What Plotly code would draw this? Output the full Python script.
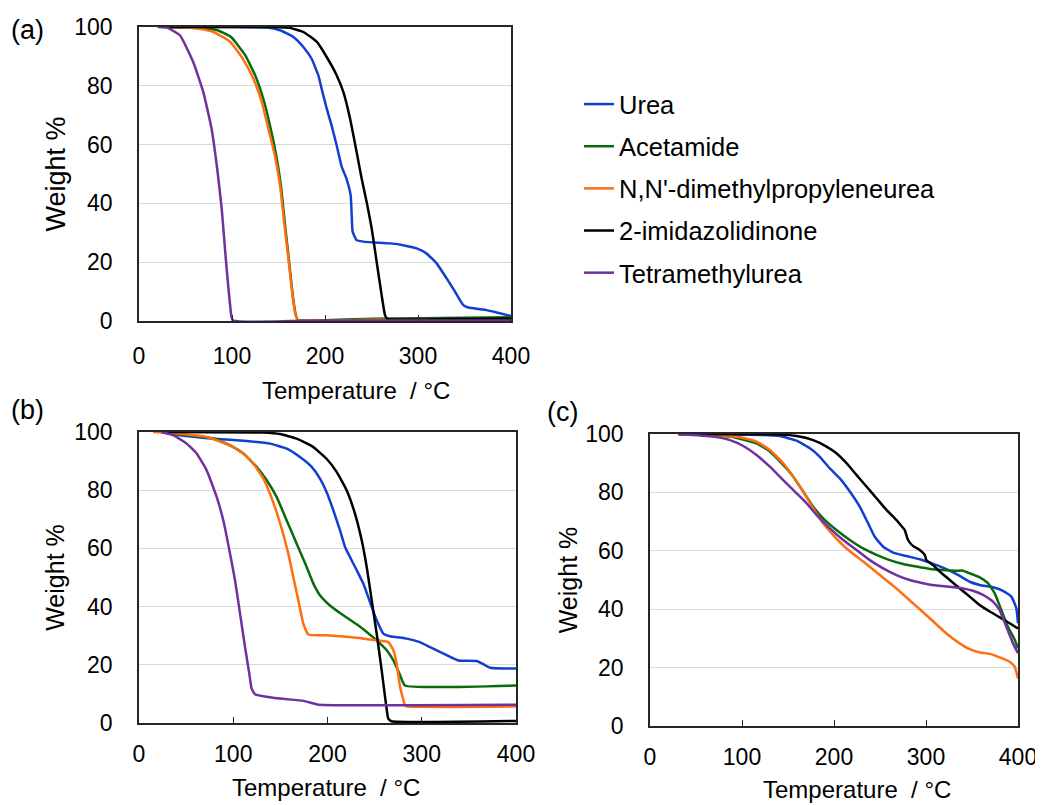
import plotly.graph_objects as go

# ---------------- data: panel (a) ----------------
a_urea_t = [25, 100, 137, 151.6, 166, 176.7, 185.6, 192.8, 196.4, 201.8, 207, 212.5, 218, 223, 227.6, 228.7, 229.7, 234, 241, 270, 284, 298.5, 309, 320, 330.8, 339.8, 348.7, 354, 373.8, 384.6, 400]
a_urea_w = [100, 100, 99.8, 98.9, 96.6, 93.2, 89.2, 83.6, 79, 72.3, 66.6, 59.8, 52.4, 48.5, 42.8, 36, 30.4, 27.5, 27, 26.4, 25.8, 24.7, 23, 19.6, 14.5, 10, 5.4, 4.6, 3.7, 2.9, 1.7]
a_acet_t = [30, 62, 83.5, 99, 114, 125, 134, 141, 147.5, 152.5, 156.7, 161, 165.3, 168.5, 170.8, 250, 400]
a_acet_w = [100, 99.7, 99.0, 96.6, 90.5, 83.5, 75.2, 66.2, 56.4, 46.2, 33.7, 21.3, 8.8, 2.2, 0.4, 0.8, 1.3]
a_dmpu_t = [30, 62, 80, 98, 112, 123, 132, 139, 146, 151.6, 156, 160.6, 165, 168.4, 171, 250, 400]
a_dmpu_w = [100, 99.6, 98.3, 95, 89, 82.4, 74.5, 65.5, 56.4, 46.2, 33.7, 21.3, 8.8, 2, 0.3, 0.4, 0.5]
a_imid_t = [30, 145, 162, 176.7, 191, 201.8, 212.5, 219.7, 226.9, 234, 239.4, 244.8, 250.2, 255.5, 260.9, 264.5, 267, 330, 400]
a_imid_w = [100, 100, 99.7, 98.3, 95, 89.8, 83.6, 77.9, 68.9, 57.5, 48.5, 40.5, 31.5, 20.2, 8.8, 2, 0.7, 0.7, 0.8]
a_tmu_t = [20, 30, 44, 58.4, 69, 78, 84, 89, 93, 98, 100.7, 200, 400]
a_tmu_w = [100, 99.8, 97.2, 88, 78, 65.5, 52, 38, 22.4, 5.4, 0.3, 0.2, 0.2]

# ---------------- data: panel (b) ----------------
b_urea_t = [24, 43.5, 79, 114.2, 139, 156.7, 170.8, 183.2, 192, 199, 206.2, 213.3, 218.6, 223.9, 231, 238, 245, 252.2, 259.2, 266.3, 284, 298, 308.8, 326.4, 338.8, 358.3, 365.3, 372.4, 400]
b_urea_w = [100, 98.9, 97.7, 96.9, 96, 94.3, 91.4, 88, 84, 79.4, 73.1, 66.2, 60.5, 57, 52.5, 47.9, 41.6, 35.3, 30.7, 29.8, 29, 27.8, 26.1, 23.3, 21.5, 21.3, 20.2, 19, 18.7]
b_acet_t = [24, 43.5, 79, 96.6, 110.7, 124.8, 135.5, 146, 156.7, 167.3, 177.9, 185, 192, 202.6, 216.8, 231, 241.6, 252.2, 262.8, 269.9, 277, 282.2, 400]
b_acet_w = [100, 99.2, 97.8, 95.4, 92.6, 88, 83.4, 77.7, 69.6, 61.6, 53.6, 47.9, 43.9, 40.4, 37, 33.9, 31.3, 28.4, 25, 21.5, 16.4, 12.9, 12.9]
b_dmpu_t = [15, 43.5, 71.8, 96.6, 110.7, 121.3, 132, 139, 146, 153, 158.4, 163.7, 169, 174.4, 179.7, 202.6, 231, 252, 264.5, 269.9, 273.4, 277, 282.2, 284, 400]
b_dmpu_w = [100, 99.4, 98.3, 95.4, 92.6, 89.1, 84, 78.8, 72.5, 65, 58.2, 50.2, 42.2, 34.1, 30.4, 30.1, 29.3, 28.4, 27.8, 25, 20.4, 12.4, 6.1, 5.7, 5.7]
b_imid_t = [30, 132, 149.6, 167.3, 185, 199, 209.7, 220.3, 229.2, 236.3, 241.6, 246.9, 252.2, 257.5, 262, 264.5, 268, 400]
b_imid_w = [100, 99.8, 99.3, 97.7, 94.8, 90.8, 86.3, 80, 71.9, 62.8, 53.6, 42.2, 30.7, 18.1, 6.6, 1.5, 0.6, 0.7]
b_tmu_t = [24, 36.4, 50.6, 61.2, 71.8, 82.4, 89.5, 96.6, 101.9, 107.2, 112.5, 117, 119.5, 123, 132, 149.6, 174.4, 183, 190.3, 400]
b_tmu_w = [100, 98.9, 96, 92.6, 86.8, 77.7, 69.6, 58.2, 49, 37.6, 26.1, 17, 11.8, 9.9, 9.2, 8.4, 7.6, 6.9, 6.3, 6.3]

# ---------------- data: panel (c) ----------------
c_urea_t = [31, 123, 141, 159.3, 173.8, 184.6, 195.5, 206.3, 217.2, 228, 237.1, 244.3, 253.4, 264.3, 278.7, 293.2, 307.7, 322.2, 336.7, 347.5, 358.4, 372.8, 383.7, 392.8, 398.2, 400]
c_urea_w = [100, 99.7, 99.3, 97.7, 95.1, 92.2, 88.2, 84.8, 80.3, 75.1, 69.4, 64.8, 61.4, 59.4, 58.2, 57.1, 55.5, 53.7, 51.4, 49.4, 48.3, 47.5, 46.3, 44.3, 40.3, 35.2]
c_acet_t = [31, 86.9, 115.8, 130.3, 144.8, 155.7, 166.5, 177.4, 188.2, 202.7, 217.2, 231.7, 246.2, 260.6, 275.1, 289.6, 304.1, 318.5, 333, 340.3, 347.5, 358.4, 367.4, 374.7, 381.9, 389.1, 396.4, 400]
c_acet_w = [100, 99.1, 96.8, 94, 89.4, 85.4, 80.3, 75.1, 71.1, 67.1, 63.7, 60.8, 58.6, 56.8, 55.5, 54.6, 53.8, 53.4, 53.2, 53.2, 52.3, 50.9, 48.9, 45.4, 39.7, 34, 29.5, 26.6]
c_dmpu_t = [31, 68.8, 97.7, 115.8, 130.3, 144.8, 155.7, 166.5, 177.4, 188.2, 199.1, 213.6, 231.7, 249.8, 267.9, 286, 304.1, 322.2, 336.7, 347.5, 358.4, 369.2, 380.1, 390.9, 396.4, 400]
c_dmpu_w = [100, 99.7, 98.9, 97.4, 94.5, 90, 85.4, 80.3, 74.5, 69.4, 65.4, 60.8, 56.3, 51.7, 47.1, 42, 36.9, 31.7, 28.3, 26.3, 25.2, 24.7, 23.5, 22, 20.3, 16.3]
c_imid_t = [31, 141, 159.3, 177.4, 191.9, 202.7, 213.6, 224.4, 235.3, 246.2, 257, 267.9, 273.3, 276.9, 280.5, 286, 293.2, 298.6, 300.4, 307.7, 314.9, 325.8, 336.7, 347.5, 358.4, 369.2, 380.1, 390.9, 400]
c_imid_w = [100, 99.8, 99.3, 97.9, 95.7, 93.4, 90, 86, 82, 78, 74, 70.5, 68.5, 67.1, 63.7, 61.6, 60.3, 58.6, 56.8, 55.1, 52.9, 50, 47.1, 44.3, 41.4, 39.2, 37.2, 35.2, 33.4]
c_tmu_t = [31, 68.8, 86.9, 101.4, 115.8, 130.3, 144.8, 159.3, 170.1, 181, 195.5, 210, 224.4, 238.9, 253.4, 267.9, 282.3, 296.8, 311.3, 325.8, 340.3, 351.1, 362, 372.8, 380, 387.3, 394.6, 400]
c_tmu_w = [100, 99.1, 97.9, 95.9, 92.8, 88.8, 84.2, 79.7, 76.3, 72.3, 67.7, 63.7, 60.3, 56.8, 54, 51.7, 50, 48.9, 48.1, 47.7, 47.1, 46.3, 44.9, 42.6, 39.7, 34, 28.3, 24.9]

names = ["Urea", "Acetamide", "N,N'-dimethylpropyleneurea", "2-imidazolidinone", "Tetramethylurea"]
colors = ["#1040D0", "#0B6B0B", "#FF6E10", "#000000", "#7030A0"]

x_ticks = [0, 100, 200, 300, 400]
y_ticks = [0, 20, 40, 60, 80, 100]

panels = [
    [(a_urea_t, a_urea_w), (a_acet_t, a_acet_w), (a_dmpu_t, a_dmpu_w), (a_imid_t, a_imid_w), (a_tmu_t, a_tmu_w)],
    [(b_urea_t, b_urea_w), (b_acet_t, b_acet_w), (b_dmpu_t, b_dmpu_w), (b_imid_t, b_imid_w), (b_tmu_t, b_tmu_w)],
    [(c_urea_t, c_urea_w), (c_acet_t, c_acet_w), (c_dmpu_t, c_dmpu_w), (c_imid_t, c_imid_w), (c_tmu_t, c_tmu_w)],
]

# page body adds an 8px offset; layout is expressed in window pixels and converted
OFF = 8
FW, FH = 1043 - OFF, 805 - OFF
FONT = "Liberation Sans, Arial, sans-serif"


def fx(px):
    return (px - OFF) / FW


def fy(py):
    return 1 - (py - OFF) / FH


# plot-area boxes in window pixels (left, right, top, bottom)
boxes = [(139, 511, 27, 321), (139, 516, 432, 723), (650, 1018, 434, 726)]
x_label_standoff = [14, 10, 10]
y_title_size = [27, 25, 25]
y_title_standoff = [1, 2, 0]

fig = go.Figure()
axis_suffix = ["", "2", "3"]
for p, series in enumerate(panels):
    sx = axis_suffix[p]
    for i, (t, w) in enumerate(series):
        fig.add_trace(go.Scatter(
            x=t, y=w, mode="lines", name=names[i],
            line=dict(color=colors[i], width=2.5, shape="spline", smoothing=0.4),
            xaxis="x" + sx, yaxis="y" + sx,
            showlegend=(p == 0), legendgroup=names[i],
        ))

layout = dict(
    width=FW, height=FH,
    margin=dict(l=0, r=0, t=0, b=0, autoexpand=False),
    paper_bgcolor="white", plot_bgcolor="white",
    font=dict(family=FONT, size=23, color="#000000"),
    showlegend=True,
    legend=dict(x=fx(579), y=fy(81), xanchor="left", yanchor="top",
                font=dict(size=25.5, family=FONT), itemwidth=30,
                tracegroupgap=6, bgcolor="rgba(0,0,0,0)"),
)

for p, (l, r, t, b) in enumerate(boxes):
    sx = axis_suffix[p]
    layout["xaxis" + sx] = dict(
        domain=[fx(l), fx(r)], range=[0, 400], tickvals=x_ticks,
        ticks="inside", ticklen=6, tickwidth=1.3, tickcolor="#262626",
        showline=True, linecolor="#262626", linewidth=1.6, mirror=True,
        showgrid=False, zeroline=False, ticklabelstandoff=x_label_standoff[p], automargin=False,
        tickfont=dict(size=23), anchor="y" + sx, fixedrange=True,
    )
    layout["yaxis" + sx] = dict(
        domain=[fy(b), fy(t)], range=[0, 100], tickvals=y_ticks,
        ticks="", showline=True, linecolor="#262626", linewidth=1.6, mirror=True,
        showgrid=True, gridcolor="#D9D9D9", gridwidth=1.3, zeroline=False,
        ticklabelstandoff=20, tickfont=dict(size=23), anchor="x" + sx, automargin=False,
        title=dict(text="Weight %", font=dict(size=y_title_size[p]), standoff=y_title_standoff[p]),
        fixedrange=True,
    )

fig.update_layout(**layout)

# x-axis titles and panel labels
xt = [(356, 390), (326, 787), (857, 789)]
for (cx, cy) in xt:
    fig.add_annotation(text="Temperature  / °C", x=fx(cx), y=fy(cy), xref="paper", yref="paper",
                       showarrow=False, xanchor="center", yanchor="middle", font=dict(size=24))
for lab, (cx, cy) in zip(["(a)", "(b)", "(c)"], [(27, 30), (27, 410), (562, 412)]):
    fig.add_annotation(text=lab, x=fx(cx), y=fy(cy), xref="paper", yref="paper",
                       showarrow=False, xanchor="center", yanchor="middle", font=dict(size=27))

fig.write_html("out.html")
